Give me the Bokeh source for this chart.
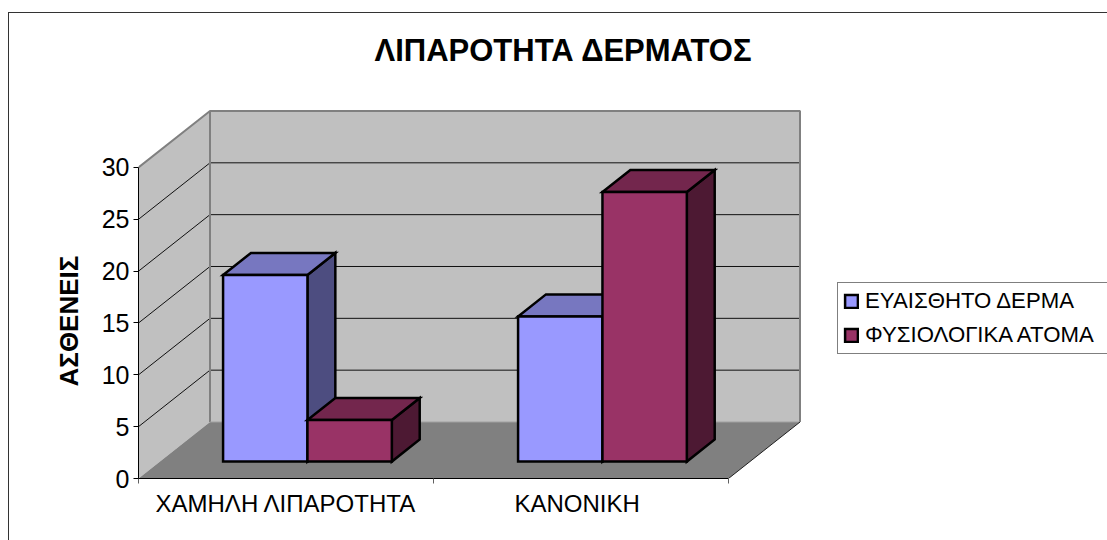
from bokeh.plotting import figure
from bokeh.embed import file_html
from bokeh.resources import INLINE
from bokeh.models import (Range1d, LinearAxis, FixedTicker, Legend, LegendItem,
                          ColumnDataSource, Title)

TITLE = "ΛΙΠΑΡΟΤΗΤΑ ΔΕΡΜΑΤΟΣ"
Y_LABEL = "ΑΣΘΕΝΕΙΣ"
categories = ["ΧΑΜΗΛΗ ΛΙΠΑΡΟΤΗΤΑ", "ΚΑΝΟΝΙΚΗ"]
series_names = ["ΕΥΑΙΣΘΗΤΟ ΔΕΡΜΑ", "ΦΥΣΙΟΛΟΓΙΚΑ ΑΤΟΜΑ"]
sensitive_skin = [18, 14]
normal_people = [4, 26]
y_ticks = [0, 5, 10, 15, 20, 25, 30]
front_colors = ["#9999FF", "#993366"]
top_colors = ["#7777C0", "#73264D"]
side_colors = ["#4D4D80", "#4D1933"]

# projection of the 3-D box, in axis units
PX_PER_CAT = 295.0
PX_PER_VAL = 10.367
DEPTH_X = 71.5 / PX_PER_CAT
DEPTH_Y = 56.5 / PX_PER_VAL
Z0, Z1 = 0.30, 0.69
GAP = 0.214  # gap on each side of a category's bars
BAR_W = (1 - 2 * GAP) / 2
FRAME_W, FRAME_H = 969, 410
Y_MAX = y_ticks[-1]
N = len(categories)


def proj(x, y, z):
    return x + z * DEPTH_X, y + z * DEPTH_Y


def poly(*pts):
    xy = [proj(*p) for p in pts]
    return [a for a, _ in xy], [b for _, b in xy]


p = figure(width=1107, height=540, output_backend="svg", toolbar_location=None,
           x_range=Range1d(0, FRAME_W / PX_PER_CAT),
           y_range=Range1d(0, FRAME_H / PX_PER_VAL),
           frame_width=FRAME_W, frame_height=FRAME_H,
           min_border_left=138, min_border_right=0, min_border_bottom=62, min_border_top=68,
           x_axis_type=None, y_axis_type=None, background_fill_color="white",
           border_fill_color="white", outline_line_color=None)
p.grid.visible = False

# chart area border (runs off the page at right and bottom)
p.stylesheets = [":host::after {content: ''; position: absolute; left: 8px; top: 12px; "
                 "right: -5px; bottom: -5px; border-left: 1px solid #333; "
                 "border-top: 1px solid #333; pointer-events: none; z-index: 10;}"]

p.title.text = TITLE
p.title.text_font = "Liberation Sans"
p.title.text_font_size = "31px"
p.title.text_font_style = "bold"
p.title.text_color = "black"
p.title.align = "left"
p.title.offset = 236
p.title.standoff = 2

# walls and floor
walls = [
    (poly((0, 0, 0), (0, Y_MAX, 0), (0, Y_MAX, 1), (0, 0, 1)), "#C0C0C0"),
    (poly((0, 0, 1), (0, Y_MAX, 1), (N, Y_MAX, 1), (N, 0, 1)), "#C0C0C0"),
    (poly((0, 0, 0), (0, 0, 1), (N, 0, 1), (N, 0, 0)), "#808080"),
]
p.patches([w[0][0] for w in walls], [w[0][1] for w in walls],
          fill_color=[w[1] for w in walls], line_color=None)

# gridlines: side wall + back wall
gx, gy = [], []
for t in y_ticks[1:-1]:
    a, b = poly((0, t, 0), (0, t, 1), (N, t, 1))
    gx.append(a)
    gy.append(b)
p.multi_line(gx, gy, line_color="#101010", line_width=1)

# wall edges
ex, ey = poly((0, Y_MAX, 0), (0, Y_MAX, 1), (N, Y_MAX, 1), (N, 0, 1))
p.line(ex, ey, line_color="#808080", line_width=2)
ex, ey = poly((0, 0, 1), (0, Y_MAX, 1))
p.line(ex, ey, line_color="#808080", line_width=2)
ex, ey = poly((0, 0, 1), (N, 0, 1))
p.line(ex, ey, line_color="#A0A0A0", line_width=1)
ex, ey = poly((N, 0, 0), (N, 0, 1))
p.line(ex, ey, line_color="#202020", line_width=1)

# bars
legend_items = []
for s, (name, vals) in enumerate(zip(series_names, [sensitive_skin, normal_people])):
    xs, ys, fills = [], [], []
    for c, v in enumerate(vals):
        x0 = c + GAP + s * BAR_W
        x1 = x0 + BAR_W
        for pts, col in [
            (((x1, 0, Z0), (x1, v, Z0), (x1, v, Z1), (x1, 0, Z1)), side_colors[s]),
            (((x0, v, Z0), (x1, v, Z0), (x1, v, Z1), (x0, v, Z1)), top_colors[s]),
            (((x0, 0, Z0), (x1, 0, Z0), (x1, v, Z0), (x0, v, Z0)), front_colors[s]),
        ]:
            a, b = poly(*pts)
            xs.append(a)
            ys.append(b)
            fills.append(col)
    src = ColumnDataSource(dict(xs=xs, ys=ys, fill=fills))
    r = p.patches("xs", "ys", source=src, fill_color="fill", line_color="black",
                  line_width=2.5, line_join="miter")
    legend_items.append(LegendItem(label=name, renderers=[r], index=2))

# axes
yax = LinearAxis(ticker=FixedTicker(ticks=y_ticks), bounds=(0, Y_MAX))
yax.axis_line_color = "black"
yax.major_tick_line_color = "black"
yax.major_tick_in = 0
yax.major_tick_out = 5
yax.minor_tick_line_color = None
yax.major_label_text_font = "Liberation Sans"
yax.major_label_text_font_size = "25px"
yax.major_label_text_color = "black"
yax.major_label_standoff = 4
p.add_layout(yax, "left")

# value-axis title: a side Title, because Bokeh centres an axis label on the frame
p.add_layout(Title(text=Y_LABEL, align="left", offset=92, standoff=30,
                   text_font="Liberation Sans", text_font_size="26px",
                   text_font_style="bold", text_color="black"), "left")

label_pos = [0.5, 1.487]
xax = LinearAxis(ticker=FixedTicker(ticks=label_pos, minor_ticks=list(range(N + 1))),
                 bounds=(0, N))
xax.major_label_overrides = {c: lab for c, lab in zip(label_pos, categories)}
xax.axis_line_color = "black"
xax.major_tick_line_color = None
xax.minor_tick_line_color = "#606060"
xax.minor_tick_in = 0
xax.minor_tick_out = 5
xax.major_label_text_font = "Liberation Sans"
xax.major_label_text_font_size = "24px"
xax.major_label_text_color = "black"
xax.major_label_standoff = 5
p.add_layout(xax, "below")

# legend
leg = Legend(items=legend_items, location=(699, 124), orientation="vertical",
             border_line_color="black", border_line_width=1, background_fill_color="white",
             background_fill_alpha=1, label_text_font="Liberation Sans",
             label_text_font_size="22.2px", label_text_color="black",
             glyph_width=16, glyph_height=16, label_standoff=6, padding=5, margin=0,
             spacing=8, label_width=270)
p.add_layout(leg)

open("out.html", "w").write(file_html(p, INLINE))
